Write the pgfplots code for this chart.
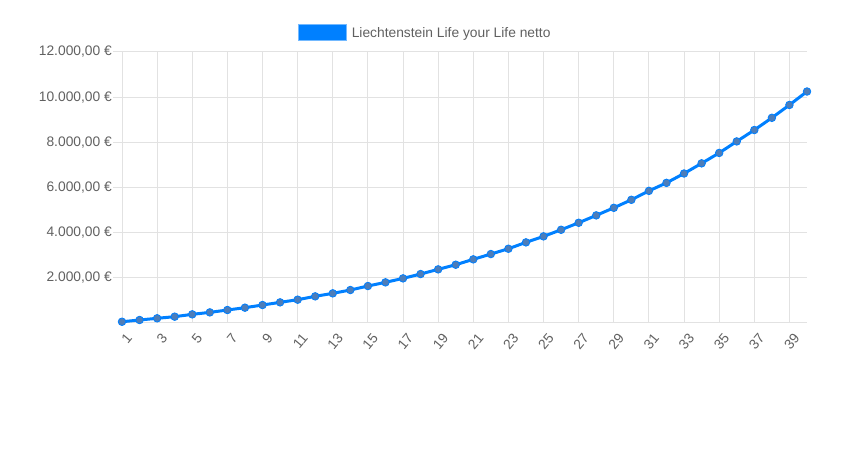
\documentclass[border=0pt]{standalone}
\usepackage{pgfplots}
\pgfplotsset{compat=1.18}
\usepackage{fontspec}
\setmainfont{Liberation Sans}
\definecolor{lineblue}{RGB}{0,128,255}
\definecolor{ptfill}{RGB}{77,125,185}
\definecolor{gridc}{RGB}{226,226,226}
\definecolor{txt}{RGB}{96,96,96}
\begin{document}
\begin{tikzpicture}
\path[use as bounding box] (0,0) rectangle (863pt,457pt);
\begin{axis}[
  at={(122pt,134pt)}, anchor=south west,
  scale only axis, width=685pt, height=271pt,
  xmin=1, xmax=40, ymin=0, ymax=12000,
  scaled y ticks=false,
  axis lines=left,
  axis line style={gridc, line width=1pt, -},
  grid=major,
  grid style={gridc, line width=1pt},
  xtick={1,3,...,39},
  major x tick style={draw=none},
  ytick={2000,4000,6000,8000,10000,12000},
  yticklabels={{2.000,00 €},{4.000,00 €},{6.000,00 €},{8.000,00 €},{10.000,00 €},{12.000,00 €}},
  tick align=outside,
  major tick length=9pt,
  major y tick style={gridc, line width=1pt},
  ticklabel style={font=\fontsize{13.8}{16}\selectfont, text=txt},
  yticklabel style={inner sep=1pt},
  xticklabel style={rotate=50, anchor=north east, inner sep=1pt, yshift=-2pt, xshift=3pt},
  extra x ticks={1},
  extra x tick labels={},
  extra x tick style={grid=none, major tick length=10pt, tick style={black, line width=0.8pt, draw=black}},
  /pgf/number format/assume math mode=true,
  legend style={at={(rel axis cs:0,1)}, anchor=south west, xshift=176pt, yshift=10.5pt,
    draw=none, fill=none, inner sep=0pt,
    font=\fontsize{13.8}{16}\selectfont, text=txt, legend cell align=left,
    /tikz/every odd column/.append style={column sep=3pt}},
  legend image code/.code={\draw[fill=lineblue, draw=lineblue!55!white, line width=0.6pt] (0pt,-7pt) rectangle (48pt,9pt);},
  clip=false,
]
\addplot[lineblue, line width=3pt, mark=*, mark size=3.8pt,
  mark options={fill=ptfill, draw=lineblue, line width=0.8pt}]
  coordinates {
  (1,55) (2,133) (3,208) (4,280) (5,383) (6,470) (7,575) (8,678) (9,796) (10,914)
  (11,1032) (12,1180) (13,1313) (14,1460) (15,1637) (16,1800) (17,1976) (18,2168) (19,2375) (20,2580)
  (21,2818) (22,3053) (23,3288) (24,3570) (25,3835) (26,4128) (27,4438) (28,4765) (29,5100) (30,5455)
  (31,5850) (32,6205) (33,6620) (34,7070) (35,7530) (36,8040) (37,8545) (38,9085) (39,9655) (40,10250)
  };
\addlegendentry{Liechtenstein Life your Life netto}
\end{axis}
\end{tikzpicture}
\end{document}
